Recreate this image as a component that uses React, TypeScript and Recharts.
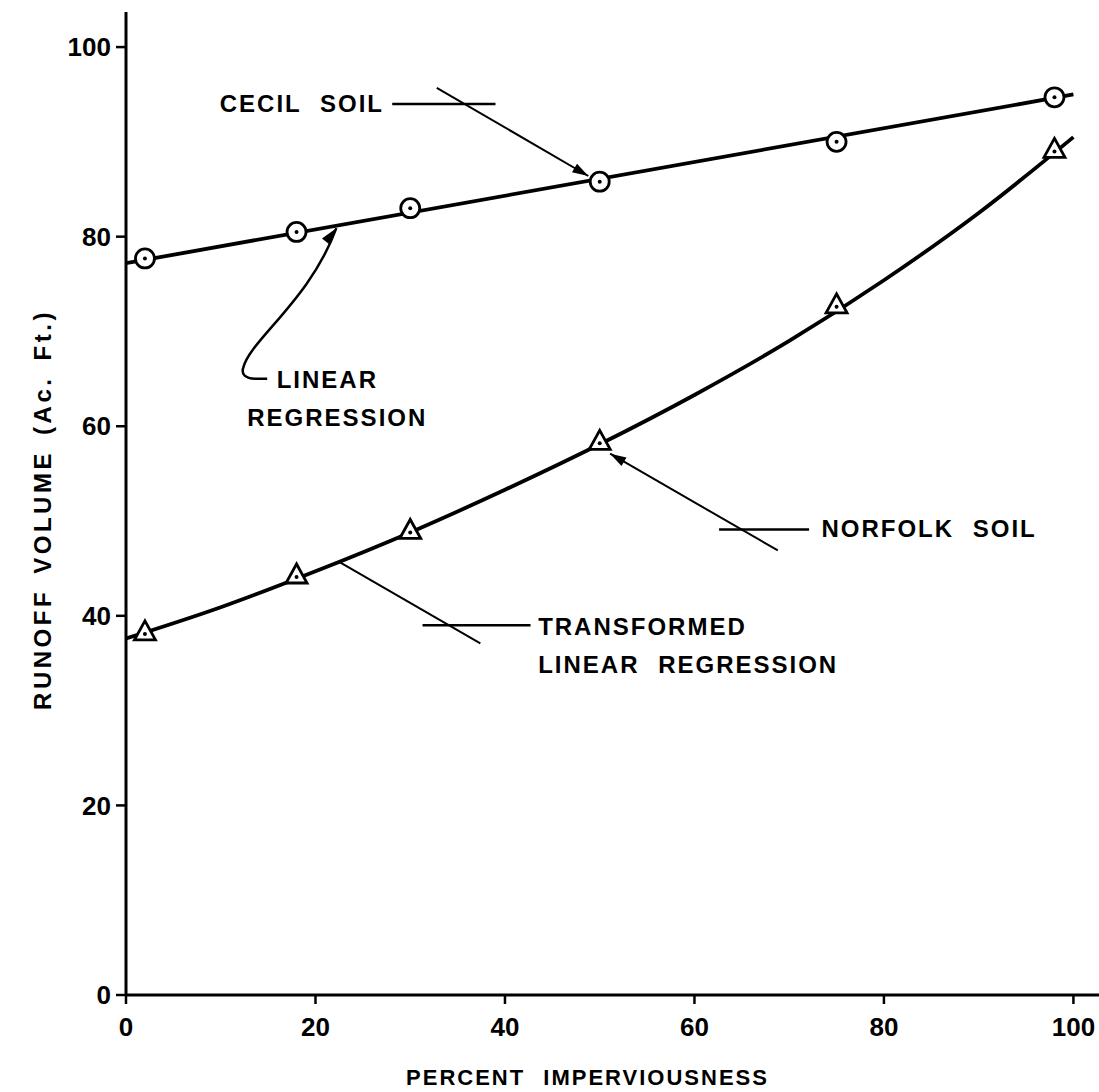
import React from 'react';
import {
  ComposedChart,
  Line,
  Scatter,
  XAxis,
  YAxis,
  ReferenceLine,
  ReferenceDot,
  Label,
} from 'recharts';

// observed points (percent imperviousness vs runoff volume, ac-ft)
const cecilPoints = [
  { x: 2, y: 77.7 },
  { x: 18, y: 80.5 },
  { x: 30, y: 83.0 },
  { x: 50, y: 85.8 },
  { x: 75, y: 90.0 },
  { x: 98, y: 94.7 },
];

const norfolkPoints = [
  { x: 2, y: 38.2 },
  { x: 18, y: 44.2 },
  { x: 30, y: 48.9 },
  { x: 50, y: 58.3 },
  { x: 75, y: 72.7 },
  { x: 98, y: 89.1 },
];

// fitted curves
const cecilFit = [
  { x: 0, y: 77.2 },
  { x: 100, y: 95.0 },
];

const norfolkFit = [
  { x: 0, y: 37.6 },
  { x: 10, y: 40.9 },
  { x: 20, y: 44.7 },
  { x: 30, y: 48.8 },
  { x: 40, y: 53.3 },
  { x: 50, y: 58.1 },
  { x: 60, y: 63.3 },
  { x: 70, y: 69.0 },
  { x: 80, y: 75.4 },
  { x: 90, y: 82.5 },
  { x: 100, y: 90.5 },
];

const xTicks = [0, 20, 40, 60, 80, 100];
const yTicks = [0, 20, 40, 60, 80, 100];

// callout leader lines, in data units
const leaders = [
  { id: 'cecil-h', from: [28.1, 94.0], to: [39.0, 94.0], arrow: false, w: 2.5 },
  { id: 'cecil-d', from: [32.8, 95.7], to: [48.8, 86.4], arrow: true, w: 2 },
  { id: 'norfolk-h', from: [62.6, 49.1], to: [72.1, 49.1], arrow: false, w: 2.5 },
  { id: 'norfolk-d', from: [68.8, 46.9], to: [51.1, 57.1], arrow: true, w: 2 },
  { id: 'trans-h', from: [31.3, 39.0], to: [42.7, 39.0], arrow: false, w: 2.5 },
  { id: 'trans-d', from: [22.5, 45.7], to: [37.4, 37.1], arrow: false, w: 2 },
];

// curved arrow for "LINEAR REGRESSION"
const hookArrow = { from: [14.9, 65.0], to: [22.2, 80.9] };

const notes = [
  { id: 'cecil', x: 9.9, y: 93.1, text: 'CECIL SOIL' },
  { id: 'lin1', x: 15.9, y: 64.0, text: 'LINEAR' },
  { id: 'lin2', x: 12.8, y: 60.0, text: 'REGRESSION' },
  { id: 'norfolk', x: 73.4, y: 48.3, text: 'NORFOLK SOIL' },
  { id: 'trans1', x: 43.5, y: 38.0, text: 'TRANSFORMED' },
  { id: 'trans2', x: 43.5, y: 34.0, text: 'LINEAR REGRESSION' },
];

const FONT = '"Liberation Sans", Arial, sans-serif';

const arrowHead = (x1: number, y1: number, x2: number, y2: number, len = 16, half = 5) => {
  const a = Math.atan2(y2 - y1, x2 - x1);
  const bx = x2 - len * Math.cos(a);
  const by = y2 - len * Math.sin(a);
  const px = -Math.sin(a) * half;
  const py = Math.cos(a) * half;
  return `${x2},${y2} ${bx + px},${by + py} ${bx - px},${by - py}`;
};

const leaderShape = (arrow: boolean, w: number) => (p: any) => {
  const { x1, y1, x2, y2 } = p;
  return (
    <g>
      <line x1={x1} y1={y1} x2={x2} y2={y2} stroke="#000" strokeWidth={w} />
      {arrow && <polygon points={arrowHead(x1, y1, x2, y2)} fill="#000" />}
    </g>
  );
};

const hookShape = (p: any) => {
  const { x1, y1, x2, y2 } = p;
  const d = `M ${x1} ${y1} L ${x1 - 12} ${y1} Q ${x1 - 27} ${y1 - 1} ${x1 - 24} ${y1 - 11} ` +
    `C ${x1 - 17} ${y1 - 39} ${x1 + 43} ${y1 - 79} ${x2} ${y2}`;
  return (
    <g>
      <path d={d} fill="none" stroke="#000" strokeWidth={2.5} />
      <polygon points={arrowHead(x1 + 30, y1 - 100, x2, y2, 17, 5)} fill="#000" />
    </g>
  );
};

const noteShape = (text: string) => (p: any) => (
  <text
    x={p.cx}
    y={p.cy}
    fontFamily={FONT}
    fontWeight="bold"
    fontSize={24}
    letterSpacing={2}
    wordSpacing={10}
    fill="#000"
  >
    {text}
  </text>
);

const CircleMark = (p: any) => (
  <g>
    <circle cx={p.cx} cy={p.cy} r={9.5} fill="#fff" stroke="#000" strokeWidth={2.8} />
    <circle cx={p.cx} cy={p.cy} r={2} fill="#000" />
  </g>
);

const TriangleMark = (p: any) => {
  const { cx, cy } = p;
  const pts = `${cx},${cy - 12} ${cx - 10.5},${cy + 7} ${cx + 10.5},${cy + 7}`;
  return (
    <g>
      <polygon points={pts} fill="#fff" stroke="#000" strokeWidth={2.8} strokeLinejoin="miter" />
      <circle cx={cx} cy={cy + 1} r={2} fill="#000" />
    </g>
  );
};

const tickStyle = { fill: '#000', fontSize: 26, fontFamily: FONT, fontWeight: 'bold' };

export default function App() {
  return (
    <div style={{ position: 'absolute', left: 0, top: 0, width: 1099, height: 1092, background: '#fff' }}>
      <ComposedChart width={1099} height={1092} margin={{ top: 12, right: 0, bottom: 0, left: 0 }}>
        <XAxis
          type="number"
          dataKey="x"
          domain={[0, 102.7]}
          ticks={xTicks}
          allowDataOverflow
          height={97}
          tickSize={9}
          tickMargin={14}
          axisLine={{ stroke: '#000', strokeWidth: 3 }}
          tickLine={{ stroke: '#000', strokeWidth: 2.5 }}
          tick={tickStyle}
        >
          <Label
            content={({ viewBox }: any) => (
              <text
                x={viewBox.x + viewBox.width / 2 - 25}
                y={viewBox.y + 90}
                textAnchor="middle"
                fontFamily={FONT}
                fontWeight="bold"
                fontSize={22}
                letterSpacing={2}
                wordSpacing={10}
                fill="#000"
              >
                PERCENT IMPERVIOUSNESS
              </text>
            )}
          />
        </XAxis>
        <YAxis
          type="number"
          dataKey="y"
          domain={[0, 103.7]}
          ticks={yTicks}
          allowDataOverflow
          width={126}
          tickSize={10}
          tickMargin={5}
          axisLine={{ stroke: '#000', strokeWidth: 3 }}
          tickLine={{ stroke: '#000', strokeWidth: 2.5 }}
          tick={tickStyle}
        >
          <Label
            content={({ viewBox }: any) => {
              const cx = viewBox.x + 51;
              const cy = viewBox.y + viewBox.height / 2 + 6;
              return (
                <text
                  x={cx}
                  y={cy}
                  transform={`rotate(-90 ${cx} ${cy})`}
                  textAnchor="middle"
                  fontFamily={FONT}
                  fontWeight="bold"
                  fontSize={24}
                  letterSpacing={3.5}
                  wordSpacing={5}
                  fill="#000"
                >
                  RUNOFF VOLUME (Ac. Ft.)
                </text>
              );
            }}
          />
        </YAxis>

        <Line data={cecilFit} dataKey="y" type="linear" stroke="#000" strokeWidth={3.8} dot={false} activeDot={false} isAnimationActive={false} />
        <Line data={norfolkFit} dataKey="y" type="monotone" stroke="#000" strokeWidth={3.8} dot={false} activeDot={false} isAnimationActive={false} />

        {leaders.map((l) => (
          <ReferenceLine
            key={l.id}
            segment={[{ x: l.from[0], y: l.from[1] }, { x: l.to[0], y: l.to[1] }]}
            shape={leaderShape(l.arrow, l.w)}
          />
        ))}
        <ReferenceLine
          segment={[{ x: hookArrow.from[0], y: hookArrow.from[1] }, { x: hookArrow.to[0], y: hookArrow.to[1] }]}
          shape={hookShape}
        />
        {notes.map((n) => (
          <ReferenceDot key={n.id} x={n.x} y={n.y} r={0} shape={noteShape(n.text)} />
        ))}

        <Scatter data={cecilPoints} dataKey="y" shape={CircleMark} isAnimationActive={false} />
        <Scatter data={norfolkPoints} dataKey="y" shape={TriangleMark} isAnimationActive={false} />
      </ComposedChart>
    </div>
  );
}
